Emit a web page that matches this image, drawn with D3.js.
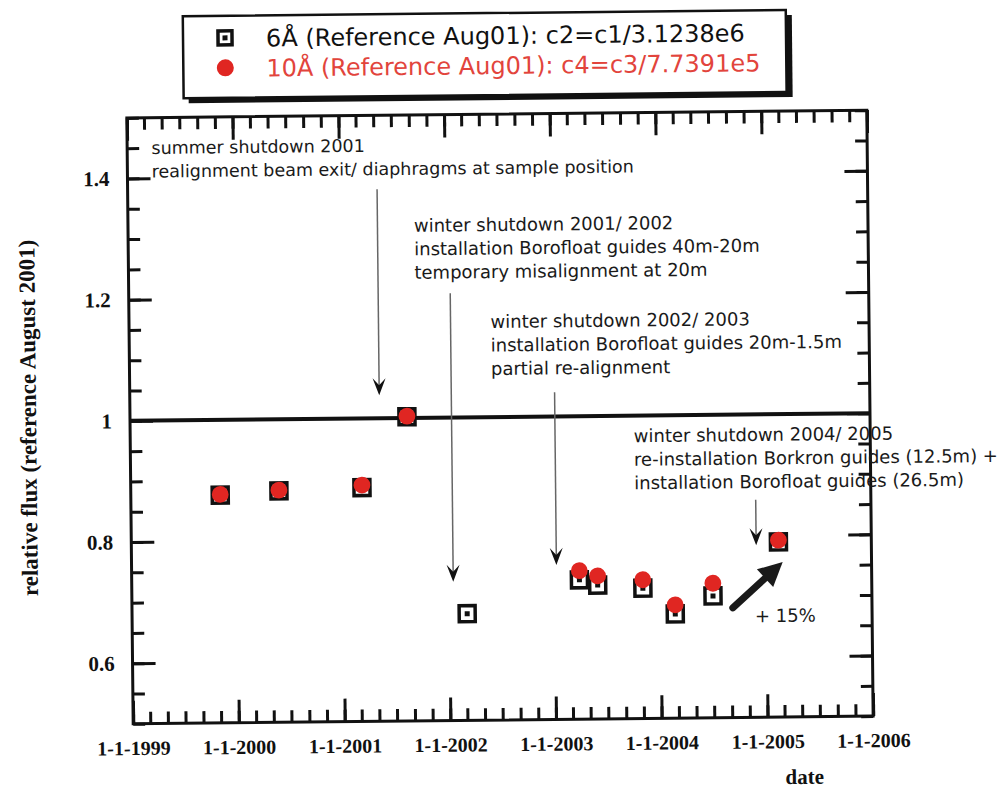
<!DOCTYPE html>
<html>
<head>
<meta charset="utf-8">
<script src="https://cdn.jsdelivr.net/npm/d3@7"></script>
<style>
  html, body { margin: 0; padding: 0; background: #fff; }
  svg { display: block; }
</style>
</head>
<body>
<svg id="chart" width="1005" height="791"></svg>
<script>
// ---------- data ----------
const dates6 = ["1999-11-06","2000-05-27","2001-03-10","2001-08-15","2002-03-04","2003-03-28","2003-05-30","2003-11-02","2004-02-21","2004-07-01","2005-02-14"];
const flux6  = [0.876, 0.882, 0.886, 1.002, 0.676, 0.730, 0.721, 0.715, 0.672, 0.701, 0.789];
const dates10 = ["1999-11-06","2000-05-27","2001-03-10","2001-08-15","2003-03-28","2003-05-30","2003-11-02","2004-02-21","2004-07-01","2005-02-14"];
const flux10  = [0.877, 0.883, 0.890, 1.003, 0.745, 0.736, 0.729, 0.687, 0.722, 0.792];

const yTickLabels = [0.6, 0.8, 1.0, 1.2, 1.4];
const xTickYears = ["1999","2000","2001","2002","2003","2004","2005","2006"];
const referenceValue = 1.0;

const legendLabels = ["6Å (Reference Aug01): c2=c1/3.1238e6", "10Å (Reference Aug01): c4=c3/7.7391e5"];

// annotation texts, anchor (date, value), arrow (date, from value, to value)
const noteLines = [
  ["summer shutdown 2001", "realignment beam exit/ diaphragms at sample position"],
  ["winter shutdown 2001/ 2002", "installation Borofloat guides 40m-20m", "temporary misalignment at 20m"],
  ["winter shutdown 2002/ 2003", "installation Borofloat guides 20m-1.5m", "partial re-alignment"],
  ["winter shutdown 2004/ 2005", "re-installation Borkron guides (12.5m) +", "installation Borofloat guides (26.5m)"]
];
const noteDates  = ["1999-03-26", "2001-09-15", "2002-06-03", "2003-10-07"];
const noteValues = [1.440, 1.307, 1.147, 0.956];
const arrowDates = ["2001-05-12", "2002-01-16", "2003-01-08", "2004-11-29"];
const arrowFrom  = [1.378, 1.205, 1.040, 0.859];
const arrowTo    = [1.038, 0.729, 0.755, 0.784];
const gainArrowDates  = ["2004-09-07", "2005-02-28"];
const gainArrowValues = [0.681, 0.756];
const gainLabel = "+ 15%";
const gainLabelDate = "2004-11-22";
const gainLabelValue = 0.657;

// ---------- layout ----------
const svg = d3.select("#chart");
svg.append("rect").attr("width", 1005).attr("height", 791).attr("fill", "#fff");
const plot = { left: 130, right: 870, top: 114, bottom: 720 };
const g = svg.append("g").attr("transform", "rotate(-0.6,500,417)");

const parse = d3.utcParse("%Y-%m-%d");
const x = d3.scaleUtc()
  .domain([parse("1999-01-01"), parse("2006-01-01")])
  .range([plot.left, plot.right]);
const y = d3.scaleLinear().domain([0.5, 1.5]).range([plot.bottom, plot.top]);

const serif = "'Liberation Serif', 'Times New Roman', serif";
const sans = "'DejaVu Sans', Verdana, sans-serif";
const red = "#e02622";

// ---------- axes ----------
const minorMonths = d3.utcMonth.every(2).range(x.domain()[0], d3.utcDay.offset(x.domain()[1], 1));
const years = xTickYears.map(yv => parse(yv + "-01-01"));
const minorY = d3.range(0, 21).map(i => +(0.5 + i * 0.05).toFixed(2));

function styleAxis(sel) {
  sel.select(".domain").remove();
  sel.selectAll(".tick line").attr("stroke", "#111").attr("stroke-width", 3);
}

// bottom
g.append("g").attr("transform", `translate(0,${plot.bottom})`)
  .call(d3.axisBottom(x).tickValues(minorMonths).tickSize(-12).tickFormat(""))
  .call(styleAxis);
g.append("g").attr("transform", `translate(0,${plot.bottom})`)
  .call(d3.axisBottom(x).tickValues(years).tickSize(-23).tickPadding(17)
        .tickFormat(d => "1-1-" + d3.utcFormat("%Y")(d)))
  .call(styleAxis)
  .call(s => s.selectAll("text").attr("font-family", serif).attr("font-weight", "bold")
        .attr("font-size", 20).attr("fill", "#111"));
// top
g.append("g").attr("transform", `translate(0,${plot.top})`)
  .call(d3.axisTop(x).tickValues(minorMonths).tickSize(-12).tickFormat(""))
  .call(styleAxis);
g.append("g").attr("transform", `translate(0,${plot.top})`)
  .call(d3.axisTop(x).tickValues(years).tickSize(-23).tickFormat(""))
  .call(styleAxis);
// left
g.append("g").attr("transform", `translate(${plot.left},0)`)
  .call(d3.axisLeft(y).tickValues(minorY).tickSize(-12).tickFormat(""))
  .call(styleAxis);
g.append("g").attr("transform", `translate(${plot.left},0)`)
  .call(d3.axisLeft(y).tickValues(yTickLabels).tickSize(-23).tickPadding(18)
        .tickFormat(d => String(+d.toFixed(2))))
  .call(styleAxis)
  .call(s => s.selectAll("text").attr("font-family", serif).attr("font-weight", "bold")
        .attr("font-size", 21).attr("fill", "#111"));
// right
g.append("g").attr("transform", `translate(${plot.right},0)`)
  .call(d3.axisRight(y).tickValues(minorY).tickSize(-12).tickFormat(""))
  .call(styleAxis);
g.append("g").attr("transform", `translate(${plot.right},0)`)
  .call(d3.axisRight(y).tickValues(yTickLabels).tickSize(-23).tickFormat(""))
  .call(styleAxis);

// frame
g.append("rect")
  .attr("x", plot.left).attr("y", plot.top)
  .attr("width", plot.right - plot.left).attr("height", plot.bottom - plot.top)
  .attr("fill", "none").attr("stroke", "#111").attr("stroke-width", 3);

// reference line
g.append("line")
  .attr("x1", x.range()[0]).attr("x2", x.range()[1])
  .attr("y1", y(referenceValue)).attr("y2", y(referenceValue))
  .attr("stroke", "#111").attr("stroke-width", 4);

// axis titles
g.append("text")
  .attr("transform", `translate(28,${(plot.top + plot.bottom) / 2 - 4}) rotate(-90)`)
  .attr("text-anchor", "middle").attr("dy", "0.35em")
  .attr("font-family", serif).attr("font-weight", "bold").attr("font-size", 23)
  .attr("fill", "#111")
  .text("relative flux (reference August 2001)");
g.append("text")
  .attr("x", plot.right - 69).attr("y", plot.bottom + 67)
  .attr("text-anchor", "middle")
  .attr("font-family", serif).attr("font-weight", "bold").attr("font-size", 21)
  .attr("fill", "#111")
  .text("date");

// ---------- annotations ----------
noteLines.forEach((lines, i) => {
  const fs = i === 0 ? 17.5 : 18;
  const lh = i === 0 ? 23.5 : 23.5;
  lines.forEach((ln, j) => {
    g.append("text")
      .attr("x", x(parse(noteDates[i]))).attr("y", y(noteValues[i]) + j * lh)
      .attr("font-family", sans).attr("font-size", fs).attr("fill", "#1a1a1a")
      .text(ln);
  });
});

arrowDates.forEach((d, i) => {
  const ax = x(parse(d));
  const y0 = y(arrowFrom[i]), y1 = y(arrowTo[i]);
  g.append("line").attr("x1", ax).attr("x2", ax).attr("y1", y0).attr("y2", y1 - 6)
    .attr("stroke", "#666").attr("stroke-width", 1.5);
  g.append("path")
    .attr("d", `M${ax},${y1} L${ax - 6.5},${y1 - 17} L${ax},${y1 - 10} L${ax + 6.5},${y1 - 17} Z`)
    .attr("fill", "#111");
});

// big +15% arrow
{
  const x0 = x(parse(gainArrowDates[0])), y0 = y(gainArrowValues[0]);
  const x1 = x(parse(gainArrowDates[1])), y1 = y(gainArrowValues[1]);
  const ang = Math.atan2(y1 - y0, x1 - x0);
  const headLen = 24, headW = 12;
  const bx = x1 - headLen * Math.cos(ang), by = y1 - headLen * Math.sin(ang);
  g.append("line").attr("x1", x0).attr("y1", y0).attr("x2", bx + 2 * Math.cos(ang)).attr("y2", by + 2 * Math.sin(ang))
    .attr("stroke", "#1a1a1a").attr("stroke-width", 7).attr("stroke-linecap", "round");
  const px = -Math.sin(ang), py = Math.cos(ang);
  g.append("path")
    .attr("d", `M${x1},${y1} L${bx + headW * px},${by + headW * py} L${bx - headW * px},${by - headW * py} Z`)
    .attr("fill", "#1a1a1a");
  g.append("text")
    .attr("x", x(parse(gainLabelDate))).attr("y", y(gainLabelValue))
    .attr("font-family", sans).attr("font-size", 18).attr("fill", "#1a1a1a")
    .text(gainLabel);
}

// ---------- data marks ----------
const pts6 = dates6.map((d, i) => ({ date: parse(d), v: flux6[i] }));
const pts10 = dates10.map((d, i) => ({ date: parse(d), v: flux10[i] }));
const sq = 19.5;
g.append("g").selectAll("rect").data(pts6).join("rect")
  .attr("x", d => x(d.date) - sq / 2 + 1.75).attr("y", d => y(d.v) - sq / 2 + 1.75)
  .attr("width", sq - 3.5).attr("height", sq - 3.5)
  .attr("fill", "#fff").attr("stroke", "#111").attr("stroke-width", 3.5);
g.append("g").selectAll("rect").data(pts6).join("rect")
  .attr("x", d => x(d.date) - 2.5).attr("y", d => y(d.v) - 2.5)
  .attr("width", 5).attr("height", 5).attr("fill", "#111");
g.append("g").selectAll("circle").data(pts10).join("circle")
  .attr("cx", d => x(d.date)).attr("cy", d => y(d.v)).attr("r", 8.4)
  .attr("fill", red);

// ---------- legend ----------
const lg = g.append("g");
lg.append("rect").attr("x", 192).attr("y", 18).attr("width", 604).attr("height", 82).attr("fill", "#111");
lg.append("rect").attr("x", 187).attr("y", 13).attr("width", 603).attr("height", 82)
  .attr("fill", "#fff").attr("stroke", "#111").attr("stroke-width", 2.5);
// square marker
lg.append("rect").attr("x", 222).attr("y", 28).attr("width", 14).attr("height", 14)
  .attr("fill", "#fff").attr("stroke", "#111").attr("stroke-width", 3.5);
lg.append("rect").attr("x", 226.5).attr("y", 32.5).attr("width", 5).attr("height", 5).attr("fill", "#111");
lg.append("circle").attr("cx", 229).attr("cy", 65).attr("r", 8.5).attr("fill", red);
lg.append("text").attr("x", 270).attr("y", 44)
  .attr("font-family", sans).attr("font-size", 24).attr("fill", "#111").text(legendLabels[0]);
lg.append("text").attr("x", 270).attr("y", 74)
  .attr("font-family", sans).attr("font-size", 24).attr("fill", "#e2443c").text(legendLabels[1]);
</script>
</body>
</html>
